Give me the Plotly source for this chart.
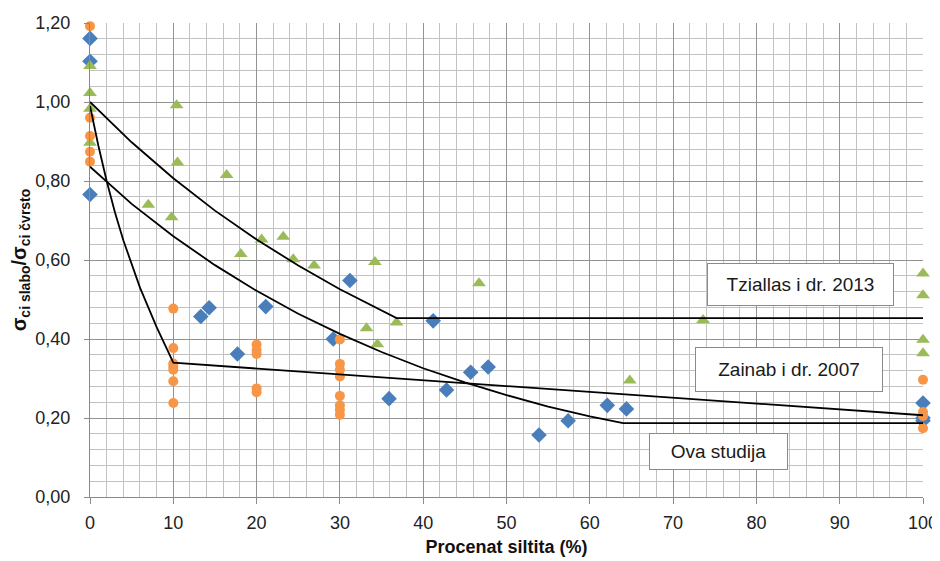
import plotly.graph_objects as go

# ---- data ----
blue_x = [0, 0, 0, 13.3, 14.3, 17.7, 21.1, 29.2, 31.2, 35.9, 41.2, 42.8, 45.7, 47.8, 53.9, 57.4, 62.1, 64.4, 100, 100, 100]
blue_y = [1.161, 1.103, 0.766, 0.457, 0.479, 0.362, 0.482, 0.400, 0.548, 0.249, 0.446, 0.271, 0.316, 0.329, 0.157, 0.193, 0.232, 0.223, 0.238, 0.200, 0.193]

green_x = [0, 0, 0, 0, 7.0, 9.8, 10.4, 10.5, 16.4, 18.1, 20.6, 23.2, 24.4, 26.9, 33.2, 34.2, 34.5, 36.8, 46.7, 64.8, 73.6, 100, 100, 100, 100]
green_y = [1.091, 1.023, 0.983, 0.897, 0.740, 0.708, 0.992, 0.847, 0.815, 0.615, 0.652, 0.659, 0.602, 0.586, 0.427, 0.595, 0.387, 0.442, 0.541, 0.295, 0.448, 0.566, 0.511, 0.398, 0.364]

orange_x = [0, 0, 0, 0, 0, 10, 10, 10, 10, 10, 10, 10, 20, 20, 20, 20, 20,
            30, 30, 30, 30, 30, 30, 30, 30, 100, 100, 100, 100]
orange_y = [1.192, 0.960, 0.914, 0.874, 0.849, 0.477, 0.377, 0.338, 0.330, 0.322, 0.293, 0.238,
            0.386, 0.372, 0.362, 0.275, 0.265,
            0.399, 0.337, 0.322, 0.305, 0.256, 0.232, 0.221, 0.208, 0.297, 0.215, 0.205, 0.174]

# fitted curves
tz_x = [0, 5, 10, 15, 20, 25, 30, 36.8, 100]
tz_y = [1.000, 0.898, 0.807, 0.725, 0.652, 0.586, 0.526, 0.453, 0.453]

za_x = [0, 5, 10, 15, 20, 25, 30, 35, 40, 45, 50, 55, 60, 64, 100]
za_y = [0.836, 0.742, 0.660, 0.587, 0.522, 0.464, 0.413, 0.367, 0.326, 0.290, 0.258, 0.229, 0.204, 0.187, 0.187]

ova_x = [0, 1, 2, 3, 4, 5, 6, 7, 8, 9, 10, 100]
ova_y = [0.990, 0.890, 0.800, 0.720, 0.650, 0.590, 0.530, 0.480, 0.430, 0.385, 0.340, 0.207]

labels = ["Tziallas i dr. 2013", "Zainab i dr. 2007", "Ova studija"]
label_x = [85.3, 83.9, 75.5]
label_y = [0.538, 0.323, 0.115]
label_w = [185, 186, 137]
label_h = [41, 43, 35]

x_title = "Procenat siltita (%)"
y_title = "σ<sub>ci slabo</sub>/σ<sub>ci čvrsto</sub>"

FONT = "Arial, Liberation Sans, sans-serif"

fig = go.Figure()
fig.add_trace(go.Scatter(x=blue_x, y=blue_y, mode="markers", cliponaxis=False,
                         marker=dict(symbol="diamond", size=12, color="#4A7EBB")))
fig.add_trace(go.Scatter(x=green_x, y=green_y, mode="markers", cliponaxis=False,
                         marker=dict(symbol="triangle-up", size=12, color="#9BBB59")))
fig.add_trace(go.Scatter(x=orange_x, y=orange_y, mode="markers", cliponaxis=False,
                         marker=dict(symbol="circle", size=10, color="#F79646")))
for lx, ly in [(tz_x, tz_y), (za_x, za_y), (ova_x, ova_y)]:
    fig.add_trace(go.Scatter(x=lx, y=ly, mode="lines", cliponaxis=False,
                             line=dict(color="#000000", width=1.8)))

for t, ax, ay, w, h in zip(labels, label_x, label_y, label_w, label_h):
    fig.add_annotation(x=ax, y=ay, xref="x", yref="y", text=t, showarrow=False,
                       width=w, height=h, borderpad=0, borderwidth=1,
                       bordercolor="#8a8a8a", bgcolor="#ffffff",
                       font=dict(family=FONT, size=19, color="#1a1a1a"))

# page body has an 8px margin, so the figure is 932x553 placed at (8, 8)
fig.update_layout(
    width=932, height=553,
    margin=dict(l=82, r=17, t=15, b=64),
    paper_bgcolor="#ffffff", plot_bgcolor="#ffffff",
    showlegend=False,
    separators=", ",
    font=dict(family=FONT, size=18, color="#222222"),
)
fig.update_xaxes(
    range=[0, 100], dtick=10, tick0=0, automargin=False,
    showgrid=True, gridcolor="#939393", gridwidth=1,
    minor=dict(dtick=2, showgrid=True, gridcolor="#c2c2c2", gridwidth=1),
    showline=True, linecolor="#8a8a8a", linewidth=1,
    ticks="outside", ticklen=6, tickcolor="#8a8a8a",
    ticklabelstandoff=3,
    zeroline=False,
    tickfont=dict(size=18, color="#222222"),
    title=dict(text="<b>" + x_title + "</b>", font=dict(size=18, color="#111111"), standoff=8),
)
fig.update_yaxes(
    range=[0, 1.2], dtick=0.2, tick0=0, tickformat=".2f", automargin=False,
    showgrid=True, gridcolor="#939393", gridwidth=1,
    minor=dict(dtick=0.04, showgrid=True, gridcolor="#c2c2c2", gridwidth=1),
    showline=True, linecolor="#8a8a8a", linewidth=1,
    ticks="outside", ticklen=5, tickcolor="#8a8a8a",
    ticklabelstandoff=10,
    zeroline=False,
    tickfont=dict(size=18, color="#222222"),
    title=dict(text="<b>" + y_title + "</b>", font=dict(size=20, color="#111111"), standoff=4),
)

fig.write_html("out.html")
